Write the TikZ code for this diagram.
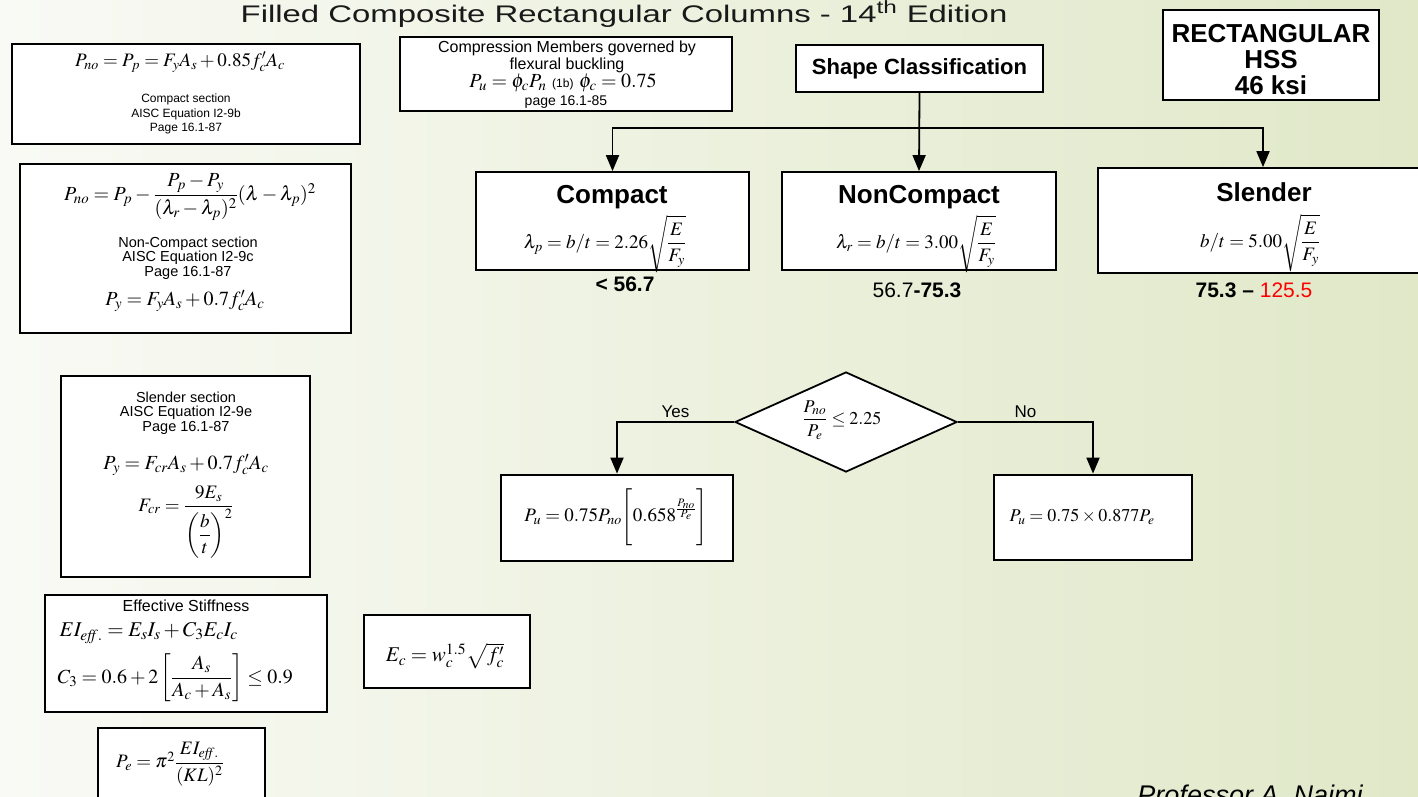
\documentclass[tikz,border=0pt]{standalone}
\usepackage{amsmath}
\usepackage{mathptmx}
\usepackage[no-math]{fontspec}
\setmainfont{Liberation Sans}
\usepackage{xcolor}
\usepackage{graphicx}
\usetikzlibrary{arrows.meta,shapes.geometric}

\definecolor{bgleft}{RGB}{249,250,245}
\definecolor{bgright}{RGB}{224,232,200}
\definecolor{titlegray}{RGB}{25,25,25}

\begin{document}
\begin{tikzpicture}[x=1pt,y=-1pt,
    box/.style={draw, line width=1.8pt, fill=white, inner sep=0pt},
    heavybox/.style={box, line width=2.8pt},
    small/.style={font=\fontsize{14.5}{14.5}\selectfont, align=center},
    eq/.style={font=\fontsize{20}{22}\selectfont},
    head/.style={font=\bfseries\fontsize{26}{28}\selectfont},
    lim/.style={font=\fontsize{21}{23}\selectfont},
    arr/.style={-{Triangle[width=13pt,length=16pt]}, line width=1.8pt}]

  % background
  \shade[left color=bgleft, right color=bgright] (0,0) rectangle (1418,796);
  \useasboundingbox (0,0) rectangle (1418,796);

  \node[font=\fontsize{24}{26}\selectfont, text=titlegray, anchor=base] (title) at (624,22)
       {\scalebox{1.37}[1]{Filled Composite Rectangular Columns - 14\textsuperscript{th} Edition}};

  % compact section
  \node[box, minimum width=348, minimum height=100] (compsec) at (186,94) {};
  \node[eq, font=\fontsize{19}{21}\selectfont] (compeq) at (180,62) {$P_{no}=P_p=F_yA_s+0.85f'_cA_c$};
  \node[small, font=\fontsize{12}{14.5}\selectfont] (comptxt) at (186,114) {Compact section\\AISC Equation I2-9b\\Page 16.1-87};

  % non-compact section
  \node[box, minimum width=331, minimum height=169] (ncsec) at (185.5,248.5) {};
  \node[eq] (nceq) at (190,197) {$P_{no}=P_p-\dfrac{P_p-P_y}{(\lambda_r-\lambda_p)^2}(\lambda-\lambda_p)^2$};
  \node[small] (nctxt) at (188,258) {Non-Compact section\\AISC Equation I2-9c\\Page 16.1-87};
  \node[eq] (pyeq) at (185,301) {$P_y=F_yA_s+0.7f'_cA_c$};

  % flexural buckling
  \node[box, minimum width=332, minimum height=74] (flex) at (566,74) {};
  \node[font=\fontsize{16}{17}\selectfont, align=center] (flextxt) at (567,57)
       {Compression Members governed by\\flexural buckling};
  \node[eq] (flexeq) at (563,83) {$P_u=\phi_cP_n$ {\fontsize{12}{13}\selectfont(1b)} $\phi_c=0.75$};
  \node[font=\fontsize{14}{15}\selectfont] (flexpg) at (566,102) {page 16.1-85};

  % classification
  \node[box, minimum width=247, minimum height=47, font=\bfseries\fontsize{22}{24}\selectfont] (shape) at (919.5,68.5) {Shape Classification};
  \node[box, minimum width=216, minimum height=90] (hss) at (1271,55) {};
  \node[align=center, font=\bfseries\fontsize{26}{26}\selectfont] (hsstxt) at (1271,60) {RECTANGULAR\\HSS\\46 ksi};

  \node[box, minimum width=273, minimum height=98] (compact) at (612.5,221) {};
  \node[head] (compacthd) at (612,197) {Compact};
  \node[eq, font=\fontsize{19}{21}\selectfont] (compacteq) at (605,244) {$\lambda_p=b/t=2.26\sqrt{\dfrac{E}{F_y}}$};
  \node[lim] (compactlim) at (625,284) {\textbf{< 56.7}};

  \node[box, minimum width=274, minimum height=98] (noncompact) at (919,221) {};
  \node[head] (noncompacthd) at (919,197) {NonCompact};
  \node[eq, font=\fontsize{19}{21}\selectfont] (noncompacteq) at (916,244) {$\lambda_r=b/t=3.00\sqrt{\dfrac{E}{F_y}}$};
  \node[lim] (noncompactlim) at (917,290) {56.7\textbf{-75.3}};

  \node[box, minimum width=330, minimum height=105] (slender) at (1263,220.5) {};
  \node[head] (slenderhd) at (1264,192) {Slender};
  \node[eq, font=\fontsize{19}{21}\selectfont] (slendereq) at (1260,243) {$b/t=5.00\sqrt{\dfrac{E}{F_y}}$};
  \node[lim] (slenderlim) at (1254,290) {\textbf{75.3 --} \textcolor{red}{125.5}};

  \coordinate (split) at (919,128);
  \draw[arr] (shape.south) -- (noncompact.north);
  \draw[arr] (split) -| (compact.north);
  \draw[arr] (split) -| (slender.north);

  % stability check
  \node[diamond, draw, line width=1.8pt, fill=white, aspect=2.22, inner sep=0pt,
        minimum width=222, minimum height=100] (check) at (846,422) {};
  \node[font=\fontsize{18}{20}\selectfont] (checkeq) at (842,420) {$\dfrac{P_{no}}{P_e}\le 2.25$};
  \node[heavybox, minimum width=232, minimum height=86] (inelastic) at (617,518) {};
  \node[font=\fontsize{19}{21}\selectfont] (inelasticeq) at (616,517) {$P_u=0.75P_{no}\Bigg[0.658^{\frac{P_{no}}{P_e}}\Bigg]$};
  \node[heavybox, minimum width=198, minimum height=85] (elastic) at (1093,517.5) {};
  \node[font=\fontsize{18}{20}\selectfont, anchor=west] (elasticeq) at (1006,517) {$P_u=0.75\times0.877P_e$};
  \draw[arr] (check.west) -| node[pos=0.25, above, font=\fontsize{17}{19}\selectfont] {Yes} (inelastic.north);
  \draw[arr] (check.east) -| node[pos=0.25, above, font=\fontsize{17}{19}\selectfont] {No} (elastic.north);

  % slender section
  \node[box, minimum width=249, minimum height=201] (slsec) at (185.5,476.5) {};
  \node[small] (sltxt) at (186,413) {Slender section\\AISC Equation I2-9e\\Page 16.1-87};
  \node[eq] (slpy) at (186,465) {$P_y=F_{cr}A_s+0.7f'_cA_c$};
  \node[eq, font=\fontsize{19}{21}\selectfont] (slfcr) at (186,522) {$F_{cr}=\dfrac{9E_s}{\left(\dfrac{b}{t}\right)^2}$};

  % stiffness
  \node[box, minimum width=282, minimum height=117] (stiff) at (186,653.5) {};
  \node[font=\fontsize{16}{18}\selectfont] (stifftxt) at (186,606) {Effective Stiffness};
  \node[eq, font=\fontsize{21}{23}\selectfont, anchor=west] (stiffeq) at (56,633) {$EI_{\mathit{eff.}}=E_sI_s+C_3E_cI_c$};
  \node[eq, anchor=west] (c3eq) at (54,678) {$C_3=0.6+2\left[\dfrac{A_s}{A_c+A_s}\right]\le 0.9$};

  \node[box, minimum width=166, minimum height=73] (ecbox) at (447,651.5) {};
  \node[eq, font=\fontsize{21}{23}\selectfont] (eceq) at (445,656) {$E_c=w_c^{1.5}\sqrt{f'_c}$};

  \node[box, minimum width=167, minimum height=77] (pebox) at (181.5,766.5) {};
  \node[eq, font=\fontsize{19}{21}\selectfont] (peeq) at (170,764) {$P_e=\pi^2\dfrac{EI_{\mathit{eff.}}}{(KL)^2}$};

  \node[font=\itshape\fontsize{27}{30}\selectfont, anchor=north] (sign) at (1250,781) {Professor A. Naimi};
\end{tikzpicture}
\end{document}
